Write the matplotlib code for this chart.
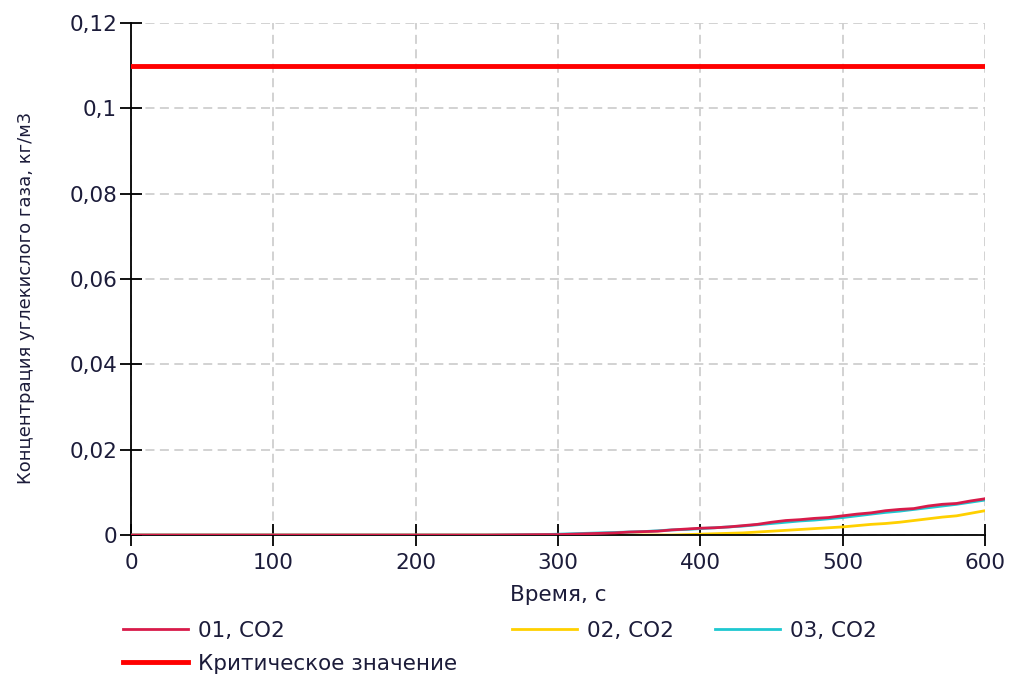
import numpy as np
import matplotlib.pyplot as plt

plt.rcParams['font.family'] = ['DejaVu Sans']

# время, с и концентрация CO2, кг/м3
t_early = [0, 50, 100, 150, 200, 250, 290]
t_late = [300, 310, 320, 330, 340, 350, 360, 370, 380, 390, 400, 410, 420, 430, 440,
          450, 460, 470, 480, 490, 500, 510, 520, 530, 540, 550, 560, 570, 580, 590, 600]
co2_01 = [0, 0, 0, 0, 0, 0, 0.0001,
          0.0001, 0.0002, 0.0003, 0.0004, 0.0005, 0.0007, 0.0008, 0.0009, 0.0012, 0.0014,
          0.0016, 0.0017, 0.0019, 0.0022, 0.0025, 0.0030, 0.0034, 0.0036, 0.0039, 0.0041,
          0.0045, 0.0049, 0.0052, 0.0057, 0.0060, 0.0062, 0.0068, 0.0072, 0.0074, 0.0080, 0.0085]
co2_02 = [0, 0, 0, 0, 0, 0, 0,
          0, 0, 0, 0, 0, 0, 0, 0, 0, 0.0001,
          0.0002, 0.0003, 0.0004, 0.0005, 0.0007, 0.0009, 0.0011, 0.0013, 0.0015, 0.0017,
          0.0019, 0.0022, 0.0025, 0.0027, 0.0030, 0.0034, 0.0038, 0.0042, 0.0045, 0.0051, 0.0057]
co2_03 = [0, 0, 0, 0, 0, 0, 0.0001,
          0.0002, 0.0003, 0.0004, 0.0005, 0.0006, 0.0007, 0.0008, 0.0010, 0.0012, 0.0013,
          0.0015, 0.0017, 0.0019, 0.0021, 0.0024, 0.0027, 0.0030, 0.0033, 0.0035, 0.0038,
          0.0041, 0.0045, 0.0049, 0.0053, 0.0056, 0.0060, 0.0064, 0.0068, 0.0072, 0.0077, 0.0082]
critical = 0.11

x_ticks = [0, 100, 200, 300, 400, 500, 600]
y_ticks = [0, 0.02, 0.04, 0.06, 0.08, 0.1, 0.12]
y_labels = ['0', '0,02', '0,04', '0,06', '0,08', '0,1', '0,12']

txt = '#1c1c3a'
fs = 15.5
t = t_early + t_late

fig = plt.figure(figsize=(10.16, 6.8), dpi=100)
ax = fig.add_axes([0.129, 0.2132, 0.8405, 0.7528])

ax.grid(True, color='#cfcfcf', linestyle=(0, (5, 3)), linewidth=1.3)
ax.set_axisbelow(True)

l1, = ax.plot(t, co2_01, color='#d81b4a', lw=2, label='01, CO2', zorder=4)
l2, = ax.plot(t, co2_02, color='#ffd000', lw=2, label='02, CO2', zorder=2)
l3, = ax.plot(t, co2_03, color='#1ec8d0', lw=2, label='03, CO2', zorder=3)
lc = ax.axhline(critical, color='#ff0000', lw=3.5, label='Критическое значение', zorder=5)

ax.set_xlim(0, 600)
ax.set_ylim(0, 0.12)
ax.set_xticks(x_ticks)
ax.set_yticks(y_ticks)
ax.set_yticklabels(y_labels)
ax.tick_params(direction='inout', length=16, width=1.3, labelsize=fs,
               labelcolor=txt, pad=2)
ax.tick_params(axis='x', pad=5)
for s in ['top', 'right']:
    ax.spines[s].set_visible(False)
for s in ['left', 'bottom']:
    ax.spines[s].set_linewidth(1.3)

ax.set_xlabel('Время, с', fontsize=fs, color=txt)
ax.set_ylabel('Концентрация углекислого газа, кг/м3', fontsize=13, color=txt)
ax.xaxis.set_label_coords(0.5, -0.098)
ax.yaxis.set_label_coords(-0.113, 0.463)

# легенда: слева 01 и критическое значение, справа 02 и 03
leg_kw = dict(frameon=False, fontsize=fs, labelcolor=txt, handlelength=3.0,
              handletextpad=0.5, labelspacing=0.6, borderaxespad=0, borderpad=0,
              columnspacing=1.9, loc='upper left')
leg_a = fig.legend(handles=[l1, lc], bbox_to_anchor=(123 / 1016, 1 - 621 / 680), **leg_kw)
leg_b = fig.legend(handles=[l2, l3], ncol=2, bbox_to_anchor=(512 / 1016, 1 - 621 / 680), **leg_kw)

fig.savefig('out.png', dpi=100)
